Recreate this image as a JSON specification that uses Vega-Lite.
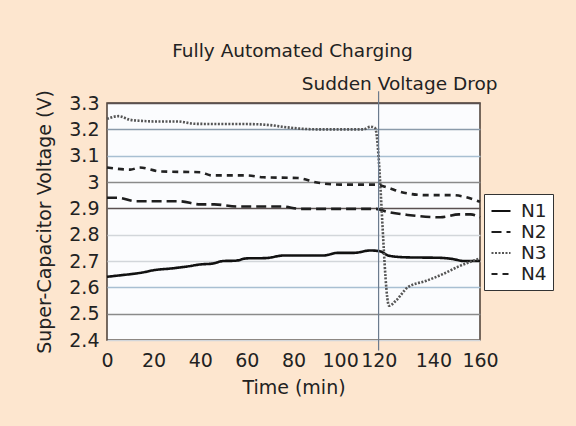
{
  "$schema": "https://vega.github.io/schema/vega-lite/v6.json",
  "autosize": {"type": "none"},
  "width": 373,
  "height": 237,
  "padding": {"left": 107, "top": 103, "right": 96, "bottom": 86},
  "background": "#fde6cf",
  "config": {
    "font": "DejaVu Sans",
    "view": {"fill": "#fbfcfe", "stroke": "#4a3c34", "strokeWidth": 1.5},
    "axis": {"labelFont": "DejaVu Sans", "titleFont": "DejaVu Sans", "labelColor": "#222", "titleColor": "#222", "titleFontWeight": "normal"}
  },
  "datasets": {
    "volt": [
      {"series": "N1", "t": 0, "v": 2.64}, {"series": "N1", "t": 5, "v": 2.645}, {"series": "N1", "t": 10, "v": 2.65}, {"series": "N1", "t": 15, "v": 2.656}, {"series": "N1", "t": 20, "v": 2.665}, {"series": "N1", "t": 28, "v": 2.672}, {"series": "N1", "t": 35, "v": 2.68}, {"series": "N1", "t": 40, "v": 2.687}, {"series": "N1", "t": 45, "v": 2.69}, {"series": "N1", "t": 50, "v": 2.7}, {"series": "N1", "t": 55, "v": 2.701}, {"series": "N1", "t": 60, "v": 2.71}, {"series": "N1", "t": 68, "v": 2.711}, {"series": "N1", "t": 76, "v": 2.721}, {"series": "N1", "t": 93, "v": 2.721}, {"series": "N1", "t": 99, "v": 2.731}, {"series": "N1", "t": 106, "v": 2.731}, {"series": "N1", "t": 113, "v": 2.74}, {"series": "N1", "t": 117, "v": 2.737}, {"series": "N1", "t": 121, "v": 2.72}, {"series": "N1", "t": 128, "v": 2.714}, {"series": "N1", "t": 143, "v": 2.712}, {"series": "N1", "t": 148, "v": 2.708}, {"series": "N1", "t": 153, "v": 2.7}, {"series": "N1", "t": 160, "v": 2.7},
      {"series": "N2", "t": 0, "v": 2.94}, {"series": "N2", "t": 5, "v": 2.94}, {"series": "N2", "t": 12, "v": 2.927}, {"series": "N2", "t": 31, "v": 2.927}, {"series": "N2", "t": 40, "v": 2.915}, {"series": "N2", "t": 46, "v": 2.915}, {"series": "N2", "t": 56, "v": 2.907}, {"series": "N2", "t": 75, "v": 2.907}, {"series": "N2", "t": 83, "v": 2.898}, {"series": "N2", "t": 115, "v": 2.898}, {"series": "N2", "t": 121, "v": 2.885}, {"series": "N2", "t": 129, "v": 2.875}, {"series": "N2", "t": 143, "v": 2.866}, {"series": "N2", "t": 151, "v": 2.877}, {"series": "N2", "t": 156, "v": 2.877}, {"series": "N2", "t": 160, "v": 2.866},
      {"series": "N3", "t": 0, "v": 3.24}, {"series": "N3", "t": 5, "v": 3.25}, {"series": "N3", "t": 10, "v": 3.236}, {"series": "N3", "t": 15, "v": 3.232}, {"series": "N3", "t": 20, "v": 3.23}, {"series": "N3", "t": 30, "v": 3.23}, {"series": "N3", "t": 38, "v": 3.221}, {"series": "N3", "t": 50, "v": 3.22}, {"series": "N3", "t": 60, "v": 3.22}, {"series": "N3", "t": 70, "v": 3.216}, {"series": "N3", "t": 75, "v": 3.21}, {"series": "N3", "t": 80, "v": 3.205}, {"series": "N3", "t": 90, "v": 3.2}, {"series": "N3", "t": 100, "v": 3.2}, {"series": "N3", "t": 110, "v": 3.2}, {"series": "N3", "t": 113, "v": 3.21}, {"series": "N3", "t": 115, "v": 3.205}, {"series": "N3", "t": 121, "v": 2.53}, {"series": "N3", "t": 124, "v": 2.55}, {"series": "N3", "t": 129, "v": 2.6}, {"series": "N3", "t": 137, "v": 2.625}, {"series": "N3", "t": 144, "v": 2.65}, {"series": "N3", "t": 151, "v": 2.68}, {"series": "N3", "t": 160, "v": 2.71},
      {"series": "N4", "t": 0, "v": 3.055}, {"series": "N4", "t": 10, "v": 3.047}, {"series": "N4", "t": 14, "v": 3.055}, {"series": "N4", "t": 23, "v": 3.04}, {"series": "N4", "t": 40, "v": 3.037}, {"series": "N4", "t": 45, "v": 3.025}, {"series": "N4", "t": 60, "v": 3.025}, {"series": "N4", "t": 67, "v": 3.018}, {"series": "N4", "t": 82, "v": 3.015}, {"series": "N4", "t": 90, "v": 2.998}, {"series": "N4", "t": 100, "v": 2.99}, {"series": "N4", "t": 115, "v": 2.99}, {"series": "N4", "t": 120, "v": 2.98}, {"series": "N4", "t": 126, "v": 2.962}, {"series": "N4", "t": 137, "v": 2.95}, {"series": "N4", "t": 148, "v": 2.95}, {"series": "N4", "t": 160, "v": 2.925}
    ],
    "event": [{"t": 116.5, "y0": 2.36, "y1": 3.345}],
    "notes": [
      {"t": 116.5, "ty": 3.35, "label": "Sudden Voltage Drop", "shift": 21},
      {"t": 80, "ty": 3.475, "label": "Fully Automated Charging", "shift": -1}
    ]
  },
  "layer": [
    {
      "data": {"name": "volt"},
      "mark": {"type": "line", "strokeWidth": 2.6, "strokeCap": "butt", "interpolate": "monotone"},
      "encoding": {
        "x": {
          "field": "t", "type": "quantitative",
          "scale": {"domain": [0, 160], "nice": false},
          "axis": {
            "values": [0, 20, 40, 60, 80, 100, 120, 140, 160], "tickCount": 20,
            "title": "Time (min)", "titleFontSize": 19, "titlePadding": 8,
            "labelFontSize": 19, "labelPadding": 11, "labelOverlap": false,
            "labelOffset": {"condition": {"test": "datum.value == 120", "value": -8}, "value": 0},
            "ticks": false, "domain": false, "grid": false, "labelFlush": false
          }
        },
        "y": {
          "field": "v", "type": "quantitative",
          "scale": {"domain": [2.4, 3.3], "nice": false, "zero": false},
          "axis": {
            "values": [2.4, 2.5, 2.6, 2.7, 2.8, 2.9, 3.0, 3.1, 3.2, 3.3], "tickCount": 20,
            "format": ".1~f", "labelOverlap": false,
            "title": "Super-Capacitor Voltage (V)", "titleFontSize": 19, "titlePadding": 14,
            "labelFontSize": 19, "labelPadding": 8,
            "ticks": false, "domain": false, "grid": true, "gridWidth": 1.3,
            "gridColor": {"condition": [
              {"test": "datum.value > 3.25 || (datum.value > 2.85 && datum.value < 2.95)", "value": "#5a5050"},
              {"test": "(datum.value > 2.95 && datum.value < 3.05) || (datum.value > 2.45 && datum.value < 2.55)", "value": "#8a8a8a"},
              {"test": "datum.value > 3.15", "value": "#8a9aaa"},
              {"test": "(datum.value > 3.05) || (datum.value > 2.55 && datum.value < 2.65)", "value": "#a8bfd2"}
            ], "value": "#d2d6da"}
          }
        },
        "color": {
          "field": "series", "type": "nominal",
          "scale": {"domain": ["N1", "N2", "N3", "N4"], "range": ["#111111", "#1e1e1e", "#555555", "#222222"]},
          "legend": {
            "title": null, "orient": "none", "legendX": 377, "legendY": 91,
            "fillColor": "#ffffff", "strokeColor": "#333333", "padding": 6,
            "symbolType": "stroke", "symbolSize": 361, "symbolStrokeWidth": 2.2,
            "labelFontSize": 18.5, "labelFont": "DejaVu Sans", "labelColor": "#222", "labelOffset": 9, "rowPadding": 0
          }
        },
        "strokeDash": {
          "field": "series", "type": "nominal",
          "scale": {"domain": ["N1", "N2", "N3", "N4"], "range": [[1, 0], [10, 5], [2, 1.5], [6, 5]]},
          "legend": {
            "title": null, "orient": "none", "legendX": 377, "legendY": 91,
            "fillColor": "#ffffff", "strokeColor": "#333333", "padding": 6,
            "symbolType": "stroke", "symbolSize": 361, "symbolStrokeWidth": 2.2,
            "labelFontSize": 18.5, "labelFont": "DejaVu Sans", "labelColor": "#222", "labelOffset": 9, "rowPadding": 0
          }
        }
      }
    },
    {
      "data": {"name": "event"},
      "mark": {"type": "rule", "color": "#6b7b8e", "strokeWidth": 1.2},
      "encoding": {
        "x": {"field": "t", "type": "quantitative"},
        "y": {"field": "y0", "type": "quantitative"},
        "y2": {"field": "y1"}
      }
    },
    {
      "data": {"name": "notes"},
      "transform": [{"filter": "datum.shift > 0"}],
      "mark": {"type": "text", "fontSize": 18.5, "font": "DejaVu Sans", "color": "#222", "baseline": "alphabetic", "align": "center", "dx": 21},
      "encoding": {
        "x": {"field": "t", "type": "quantitative"},
        "y": {"field": "ty", "type": "quantitative"},
        "text": {"field": "label"}
      }
    },
    {
      "data": {"name": "notes"},
      "transform": [{"filter": "datum.shift < 0"}],
      "mark": {"type": "text", "fontSize": 18.5, "font": "DejaVu Sans", "color": "#222", "baseline": "alphabetic", "align": "center", "dx": -1},
      "encoding": {
        "x": {"field": "t", "type": "quantitative"},
        "y": {"field": "ty", "type": "quantitative"},
        "text": {"field": "label"}
      }
    }
  ]
}
